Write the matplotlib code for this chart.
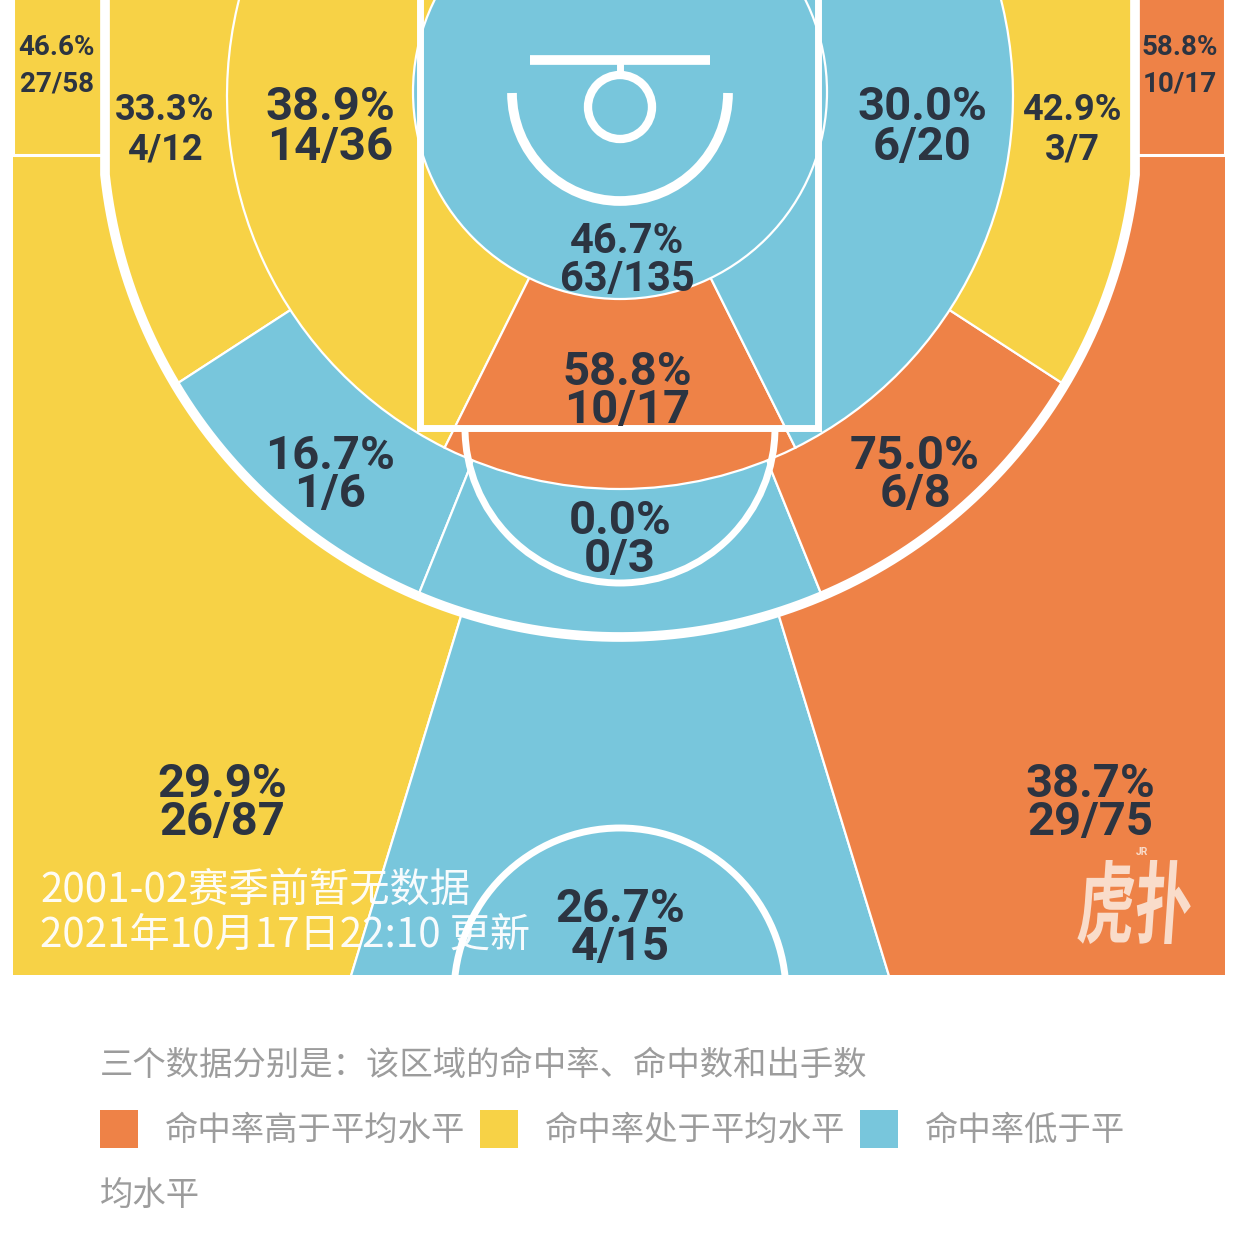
import numpy as np
import matplotlib
matplotlib.use("Agg")
import matplotlib.pyplot as plt
from matplotlib.patches import Wedge, Rectangle, Circle, Arc, PathPatch
from matplotlib.path import Path
from matplotlib.textpath import TextPath
from matplotlib.font_manager import FontProperties
from matplotlib.transforms import Affine2D

# ---------------- data ----------------
zone_names = ["left_corner3", "left_wing_long2", "left_mid", "restricted", "paint",
              "right_mid", "right_wing_long2", "right_corner3", "left_base_long2",
              "top_long2", "right_base_long2", "left_wing3", "top3", "right_wing3"]
made = [27, 4, 14, 63, 10, 6, 3, 10, 1, 0, 6, 26, 4, 29]
attempts = [58, 12, 36, 135, 17, 20, 7, 17, 6, 3, 8, 87, 15, 75]
levels = ["avg", "avg", "avg", "low", "high", "low", "avg", "high", "low",
          "low", "high", "avg", "low", "high"]
legend_labels = ["命中率高于平均水平", "命中率处于平均水平", "命中率低于平均水平"]
legend_levels = ["high", "avg", "low"]
note_text = "三个数据分别是：该区域的命中率、命中数和出手数"
footer_lines = ["2001-02赛季前暂无数据", "2021年10月17日22:10 更新"]
brand = "虎扑"

# ---------------- style ----------------
COL = {"high": "#EE8247", "avg": "#F7D246", "low": "#78C6DC"}
TXT = "#2C3441"
CJK = ["Noto Sans CJK SC", "DejaVu Sans"]
NUM = ["Roboto", "DejaVu Sans"]

W = H = 1235
fig = plt.figure(figsize=(12.35, 12.35), dpi=100)
ax = fig.add_axes([0, 0, 1, 1])
ax.set_xlim(0, W)
ax.set_ylim(H, 0)
ax.axis("off")
fig.patch.set_facecolor("white")

# ---------------- court geometry (layout) ----------------
CL, CR, CB = 13, 1225, 975
BX, BY = 620, 96
R_RIM_ZONE = 207
RIM_ZONE_C = (620, 92)
R_MID = 393
TP_C = (620, 119)
TP_R = 518
CX_L, CX_R, CORNER_Y = 105, 1135, 155

court_clip = Rectangle((CL, 0), CR - CL, CB, transform=ax.transData)

tj = np.degrees(np.arctan2(np.sqrt(TP_R**2 - (TP_C[0] - CX_L)**2), -(TP_C[0] - CX_L)))
ang = np.radians(np.linspace(tj, 180 - tj, 300))
arc_x = TP_C[0] + TP_R * np.cos(ang)
arc_y = TP_C[1] + TP_R * np.sin(ang)
verts = [(CX_L, -30)] + list(zip(arc_x, arc_y)) + [(CX_R, -30), (CX_L, -30)]
codes = [Path.MOVETO] + [Path.LINETO] * (len(verts) - 2) + [Path.CLOSEPOLY]
inside3 = PathPatch(Path(verts, codes), transform=ax.transData)

THIN = 1.6


def wedge(r, t1, t2, level, clip):
    w = Wedge((BX, BY), r, t1, t2, facecolor=COL[level], edgecolor="white", lw=THIN)
    ax.add_patch(w)
    w.set_clip_path(clip)


lv = dict(zip(zone_names, levels))

wedge(2500, 107, 270, lv["left_wing3"], court_clip)
wedge(2500, 73, 107, lv["top3"], court_clip)
wedge(2500, -90, 73, lv["right_wing3"], court_clip)
for x0, x1, z in [(CL, CX_L, "left_corner3"), (CX_R, CR, "right_corner3")]:
    r = Rectangle((x0, -10), x1 - x0, CORNER_Y + 10, facecolor=COL[lv[z]],
                  edgecolor="white", lw=2.2)
    ax.add_patch(r)
    r.set_clip_path(court_clip)
wedge(2500, 147, 270, lv["left_wing_long2"], inside3)
wedge(2500, 112, 147, lv["left_base_long2"], inside3)
wedge(2500, 68, 112, lv["top_long2"], inside3)
wedge(2500, 33, 68, lv["right_base_long2"], inside3)
wedge(2500, -90, 33, lv["right_wing_long2"], inside3)
wedge(R_MID, 116.5, 270, lv["left_mid"], court_clip)
wedge(R_MID, 63.5, 116.5, lv["paint"], court_clip)
wedge(R_MID, -90, 63.5, lv["right_mid"], court_clip)
ax.add_patch(Circle(RIM_ZONE_C, R_RIM_ZONE, facecolor=COL[lv["restricted"]],
                    edgecolor="white", lw=THIN))

# ---------------- court lines ----------------
LW = 5
ax.plot([CX_L] + list(arc_x) + [CX_R], [-20] + list(arc_y) + [-20], color="white",
        lw=7, solid_joinstyle="round")
ax.add_patch(Rectangle((420, -20), 398, 448, fill=False, edgecolor="white", lw=LW))
ax.add_patch(Arc((620, 428), 310, 310, theta1=0, theta2=180, edgecolor="white", lw=LW))
cc = Circle((620, 994), 166, fill=False, edgecolor="white", lw=LW)
ax.add_patch(cc)
cc.set_clip_path(court_clip)
ax.plot([530, 710], [60, 60], color="white", lw=7, solid_capstyle="butt")
ax.plot([620, 620], [60, 76], color="white", lw=5, solid_capstyle="butt")
ax.add_patch(Circle((620, 107), 32, fill=False, edgecolor="white", lw=6))
ax.add_patch(Arc((620, 93), 216, 216, theta1=0, theta2=180, edgecolor="white", lw=7))

# ---------------- zone labels ----------------
label_pos = {
    "left_corner3": (57, 45, 82, 20),
    "left_wing_long2": (165, 107, 147, 26),
    "left_mid": (330, 103, 143, 34),
    "restricted": (627, 238, 276, 30),
    "paint": (627, 368, 406, 34),
    "right_mid": (922, 103, 143, 34),
    "right_wing_long2": (1072, 107, 147, 26),
    "right_corner3": (1180, 45, 82, 20),
    "left_base_long2": (330, 452, 490, 34),
    "top_long2": (620, 517, 555, 34),
    "right_base_long2": (915, 452, 490, 34),
    "left_wing3": (222, 780, 818, 34),
    "top3": (620, 905, 943, 34),
    "right_wing3": (1090, 780, 818, 34),
}
for z, m, a in zip(zone_names, made, attempts):
    x, y1, y2, fs = label_pos[z]
    half_cap = 0.711 * fs * 100 / 72 / 2
    ax.text(x, y1 + half_cap, f"{100 * m / a:.1f}%", ha="center", va="baseline",
            fontsize=fs, fontweight="bold", color=TXT, family=NUM)
    ax.text(x, y2 + half_cap, f"{m}/{a}", ha="center", va="baseline",
            fontsize=fs, fontweight="bold", color=TXT, family=NUM)

# footer inside court
for txt, y in zip(footer_lines, [890, 935]):
    ax.text(40, y, txt, ha="left", va="center", fontsize=29, color="white",
            family=CJK, fontweight="light", alpha=0.95)

# brand mark (stretched glyphs)
tp = TextPath((0, 0), brand, size=50,
              prop=FontProperties(family=CJK, weight="heavy"))
v = tp.vertices
bx0, bx1, by0, by1 = v[:, 0].min(), v[:, 0].max(), v[:, 1].min(), v[:, 1].max()
box = (1077, 1190, 860, 944)
tr = (Affine2D().translate(-bx0, -by1)
      .scale((box[1] - box[0]) / (bx1 - bx0), -(box[3] - box[2]) / (by1 - by0))
      .skew_deg(-4, 0).translate(box[0] + 4, box[2]))
ax.add_patch(PathPatch(tp, transform=tr + ax.transData, facecolor="#F9DCCA",
                       edgecolor="none"))
ax.text(1142, 852, "JR", ha="center", va="center", fontsize=7.5, fontweight="bold",
        color="#F9DCCA", family=NUM)

# ---------------- legend below ----------------
GREY = "#9C9C9C"
ax.text(100, 1065, note_text, ha="left", va="center", fontsize=24, color=GREY, family=CJK)
sq_x = [100, 480, 860]
for i, (lab, lev) in enumerate(zip(legend_labels, legend_levels)):
    ax.add_patch(Rectangle((sq_x[i], 1110), 38, 38, facecolor=COL[lev], edgecolor="none"))
    if i < 2:
        ax.text(sq_x[i] + 65, 1130, lab, ha="left", va="center", fontsize=24,
                color=GREY, family=CJK)
    else:
        ax.text(sq_x[i] + 65, 1130, lab[:6], ha="left", va="center", fontsize=24,
                color=GREY, family=CJK)
        ax.text(100, 1195, lab[6:], ha="left", va="center", fontsize=24,
                color=GREY, family=CJK)

fig.savefig("out.png", dpi=100, facecolor="white")
